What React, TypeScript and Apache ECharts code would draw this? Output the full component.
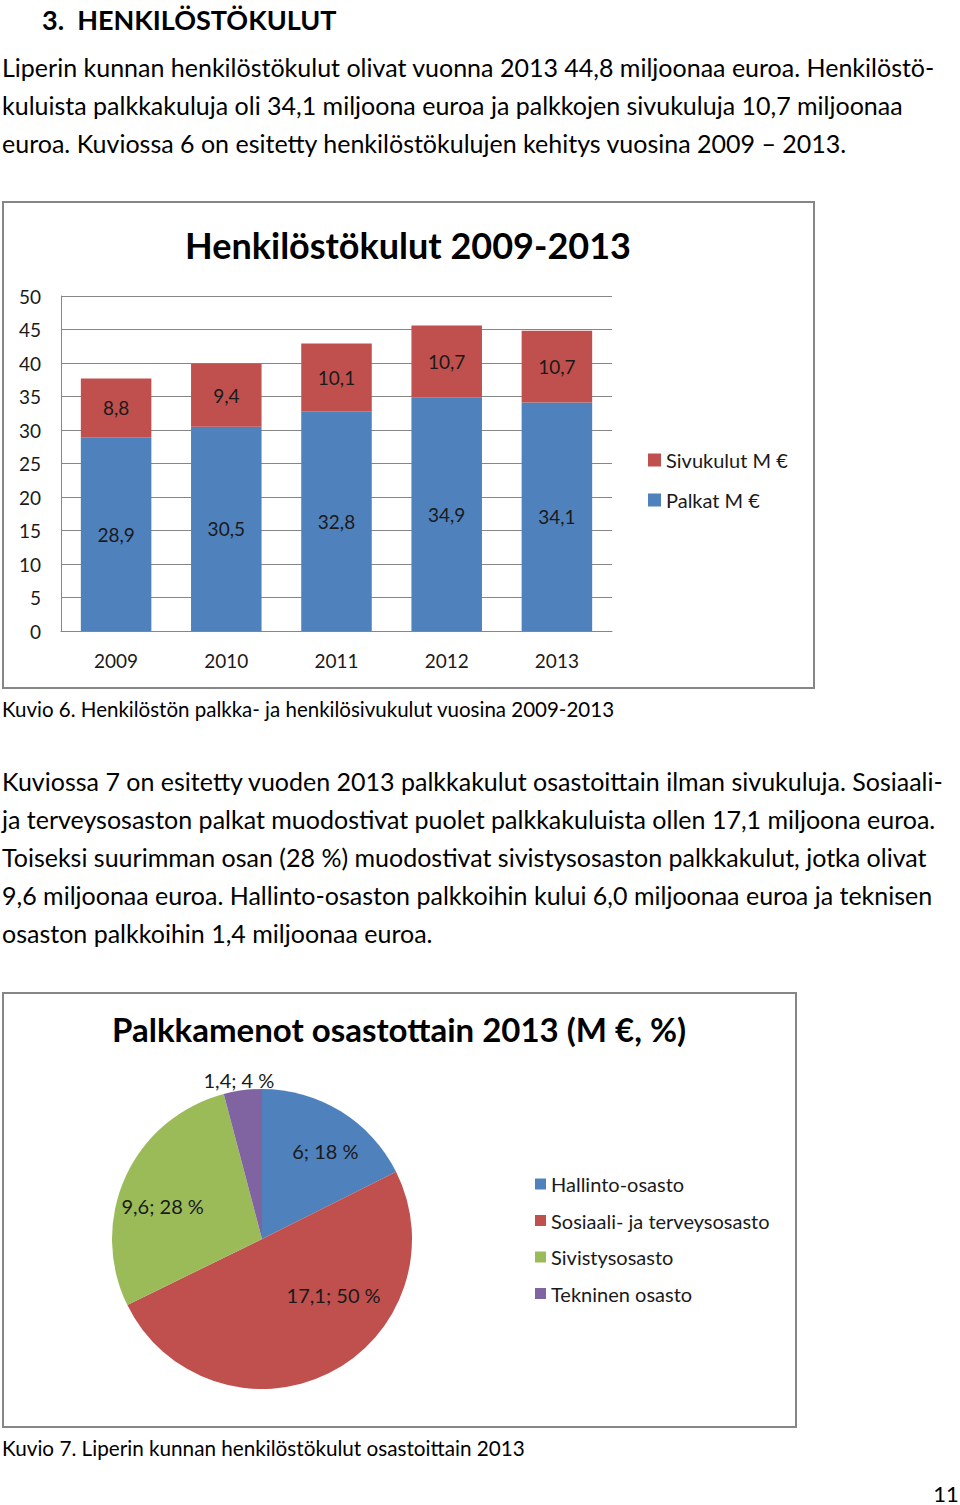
import { useEffect, useRef } from "react";
import * as echarts from "echarts";

const FONT = "Lato, 'Noto Sans', sans-serif";
const INK = "#1a1a1a";
const FRAME = "#868686";

// Kuvio 6
const years = ["2009", "2010", "2011", "2012", "2013"];
const palkat = [28.9, 30.5, 32.8, 34.9, 34.1];
const sivukulut = [8.8, 9.4, 10.1, 10.7, 10.7];
const Y_MIN = 0;
const Y_MAX = 50;
const Y_STEP = 5;

// Kuvio 7
const departments = ["Hallinto-osasto", "Sosiaali- ja terveysosasto", "Sivistysosasto", "Tekninen osasto"];
const deptValues = [6, 17.1, 9.6, 1.4];
const deptColors = ["#4f81bd", "#c0504d", "#9bbb59", "#8064a2"];

const heading = "3.  HENKILÖSTÖKULUT";
const para1 = [
  "Liperin kunnan henkilöstökulut olivat vuonna 2013 44,8 miljoonaa euroa. Henkilöstö-",
  "kuluista palkkakuluja oli 34,1 miljoona euroa ja palkkojen sivukuluja 10,7 miljoonaa",
  "euroa. Kuviossa 6 on esitetty henkilöstökulujen kehitys vuosina 2009 – 2013.",
];
const para2 = [
  "Kuviossa 7 on esitetty vuoden 2013 palkkakulut osastoittain ilman sivukuluja. Sosiaali-",
  "ja terveysosaston palkat muodostivat puolet palkkakuluista ollen 17,1 miljoona euroa.",
  "Toiseksi suurimman osan (28 %) muodostivat sivistysosaston palkkakulut, jotka olivat",
  "9,6 miljoonaa euroa. Hallinto-osaston palkkoihin kului 6,0 miljoonaa euroa ja teknisen",
  "osaston palkkoihin 1,4 miljoonaa euroa.",
];
const caption6 = "Kuvio 6. Henkilöstön palkka- ja henkilösivukulut vuosina 2009-2013";
const caption7 = "Kuvio 7. Liperin kunnan henkilöstökulut osastoittain 2013";
const title6 = "Henkilöstökulut 2009-2013";
const title7 = "Palkkamenot osastottain 2013 (M €, %)";
const pageNo = "11";

const PIE_CX = 262;
const PIE_CY = 1239;
// how far each pie label is pushed from mid-radius, plus a small nudge
const LABEL_PUSH = [0.45, 0.2, 0.4, 0];
const LABEL_NUDGE: [number, number][] = [[4, 8], [30, -28], [0, 12], [0, 0]];

const comma = (v: number) => String(v).replace(".", ",");

const txt = (text: string, x: number, y: number, size: number, extra: Record<string, unknown> = {}) => ({
  type: "text",
  x,
  y,
  style: {
    text,
    fill: "#000",
    fontFamily: FONT,
    fontSize: size,
    verticalAlign: "middle",
    align: "left",
    ...extra,
  },
});

export default function App() {
  const ref = useRef<HTMLDivElement>(null);

  useEffect(() => {
    if (!ref.current) return;
    const chart = echarts.init(ref.current, null, { renderer: "svg" });

    const graphic: any[] = [
      { type: "rect", shape: { x: 3, y: 202, width: 811, height: 486 }, style: { fill: "none", stroke: FRAME, lineWidth: 2 } },
      { type: "rect", shape: { x: 3, y: 993, width: 793, height: 434 }, style: { fill: "none", stroke: FRAME, lineWidth: 2 } },
      txt(heading, 42, 19, 27, { fontWeight: "bold" }),
      ...para1.map((l, i) => txt(l, 2, 67 + i * 38, 25)),
      txt(title6, 408, 245, 36, { fontWeight: "bold", align: "center" }),
      txt(caption6, 2, 709, 20.5),
      ...para2.map((l, i) => txt(l, 2, 781 + i * 38, 25)),
      txt(title7, 399, 1029, 33, { fontWeight: "bold", align: "center" }),
      txt(caption7, 2, 1448, 20.7),
      txt(pageNo, 946, 1493, 22, { align: "center" }),
    ];

    chart.setOption({
      animation: false,
      textStyle: { fontFamily: FONT, color: INK },
      graphic,
      legend: [
        {
          orient: "vertical",
          left: 648,
          top: 450,
          padding: 0,
          icon: "rect",
          itemWidth: 13,
          itemHeight: 13,
          itemGap: 20,
          selectedMode: false,
          textStyle: { fontSize: 20, lineHeight: 20, color: INK, fontFamily: FONT },
          data: ["Sivukulut M €", "Palkat M €"],
        },
        {
          orient: "vertical",
          left: 535,
          top: 1174,
          padding: 0,
          icon: "rect",
          itemWidth: 11,
          itemHeight: 11,
          itemGap: 16.5,
          selectedMode: false,
          textStyle: { fontSize: 20, lineHeight: 20, color: INK, fontFamily: FONT },
          data: departments,
        },
      ],
      grid: { left: 61, top: 296, width: 551, height: 335 },
      xAxis: {
        type: "category",
        data: years,
        axisLine: { lineStyle: { color: FRAME, width: 1 } },
        axisTick: { show: false },
        axisLabel: { fontSize: 19, color: INK, margin: 20, fontFamily: FONT },
      },
      yAxis: {
        type: "value",
        min: Y_MIN,
        max: Y_MAX,
        interval: Y_STEP,
        axisLine: { show: true, lineStyle: { color: FRAME, width: 1 } },
        axisTick: { show: false },
        axisLabel: { fontSize: 19, color: INK, margin: 20, fontFamily: FONT },
        splitLine: { lineStyle: { color: FRAME, width: 1 } },
      },
      series: [
        {
          name: "Palkat M €",
          type: "bar",
          stack: "kulut",
          barWidth: "64%",
          itemStyle: { color: "#4f81bd" },
          label: { show: true, position: "inside", fontSize: 19, color: INK, formatter: (p: any) => comma(p.value) },
          data: palkat,
        },
        {
          name: "Sivukulut M €",
          type: "bar",
          stack: "kulut",
          barWidth: "64%",
          itemStyle: { color: "#c0504d" },
          label: { show: true, position: "inside", fontSize: 19, color: INK, formatter: (p: any) => comma(p.value) },
          data: sivukulut,
        },
        {
          name: "Palkkamenot",
          type: "pie",
          center: [PIE_CX, PIE_CY],
          radius: 150,
          startAngle: 90,
          clockwise: true,
          itemStyle: { borderColor: "#fff", borderWidth: 0 },
          label: {
            fontSize: 20,
            color: INK,
            fontFamily: FONT,
            formatter: (p: any) => `${comma(p.value)}; ${Math.round(p.percent)} %`,
          },
          labelLine: { show: false, length: 6, length2: 0 },
          labelLayout: (p: any) => {
            const r = p.labelRect;
            const k = LABEL_PUSH[p.dataIndex];
            const [nx, ny] = LABEL_NUDGE[p.dataIndex];
            if (p.dataIndex === 3) return { dx: r.width / 2 + 2, dy: -4 };
            const lx = r.x + r.width / 2;
            const ly = r.y + r.height / 2;
            return { dx: (lx - PIE_CX) * k + nx, dy: (ly - PIE_CY) * k + ny };
          },
          data: departments.map((name, i) => ({
            name,
            value: deptValues[i],
            itemStyle: { color: deptColors[i] },
            label: { position: i === 3 ? "outside" : "inside" },
          })),
        },
      ],
    });

    return () => chart.dispose();
  }, []);

  return <div ref={ref} style={{ position: "absolute", left: 0, top: 0, width: 960, height: 1505, background: "#fff" }} />;
}
